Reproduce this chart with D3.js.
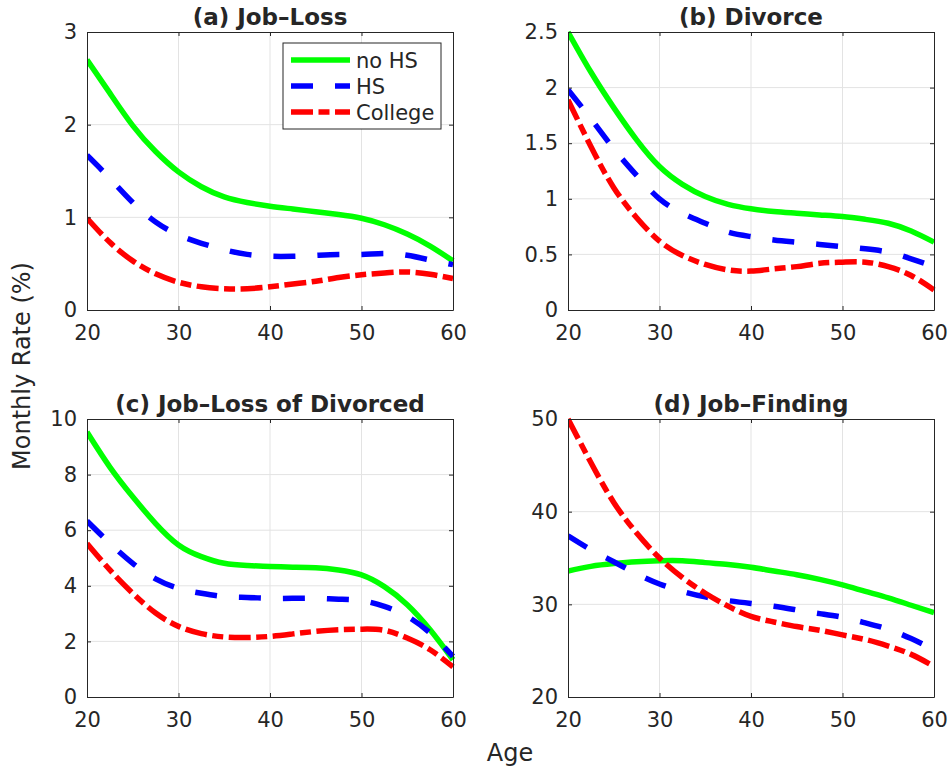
<html>
<head>
<title>Monthly rates by age</title>
<meta charset="utf-8">
<script src="https://d3js.org/d3.v7.min.js"></script>
<style>
  body { margin: 0; background: #fff; }
  text { font-family: "DejaVu Sans", sans-serif; fill: #262626; }
</style>
</head>
<body>
<script type="text/javascript">
var ages = [20, 22.5, 25, 27.5, 30, 32.5, 35, 37.5, 40, 42.5, 45, 47.5, 50, 52.5, 55, 57.5, 60]
var xTicks = [20, 30, 40, 50, 60]
var groups = ["no HS", "HS", "College"]

// (a) Job-Loss
var jobLossNoHS    = [2.70, 2.34, 1.99, 1.71, 1.49, 1.33, 1.22, 1.16, 1.12, 1.09, 1.06, 1.03, 0.99, 0.92, 0.82, 0.69, 0.53]
var jobLossHS      = [1.67, 1.42, 1.16, 0.95, 0.81, 0.72, 0.65, 0.60, 0.58, 0.58, 0.59, 0.60, 0.60, 0.61, 0.59, 0.54, 0.49]
var jobLossCollege = [0.99, 0.73, 0.53, 0.39, 0.30, 0.25, 0.23, 0.23, 0.25, 0.28, 0.31, 0.35, 0.38, 0.40, 0.41, 0.385, 0.34]
// (b) Divorce
var divorceNoHS    = [2.50, 2.14, 1.82, 1.53, 1.29, 1.13, 1.02, 0.95, 0.91, 0.885, 0.87, 0.855, 0.84, 0.815, 0.78, 0.71, 0.61]
var divorceHS      = [1.98, 1.72, 1.45, 1.21, 1.00, 0.87, 0.78, 0.70, 0.66, 0.63, 0.61, 0.59, 0.57, 0.55, 0.52, 0.46, 0.39]
var divorceCollege = [1.89, 1.47, 1.10, 0.83, 0.62, 0.49, 0.41, 0.36, 0.35, 0.37, 0.39, 0.42, 0.43, 0.43, 0.39, 0.31, 0.18]
// (c) Job-Loss of Divorced
var jlDivNoHS      = [9.53, 8.27, 7.20, 6.24, 5.47, 5.05, 4.81, 4.73, 4.69, 4.67, 4.65, 4.57, 4.39, 3.97, 3.32, 2.42, 1.34]
var jlDivHS        = [6.33, 5.53, 4.81, 4.25, 3.91, 3.73, 3.61, 3.58, 3.55, 3.55, 3.55, 3.52, 3.47, 3.26, 2.90, 2.30, 1.46]
var jlDivCollege   = [5.52, 4.57, 3.73, 3.02, 2.54, 2.28, 2.16, 2.14, 2.18, 2.27, 2.36, 2.42, 2.44, 2.40, 2.12, 1.70, 1.08]
// (d) Job-Finding
var findNoHS       = [33.6, 34.1, 34.4, 34.6, 34.7, 34.7, 34.5, 34.3, 34.0, 33.6, 33.2, 32.7, 32.1, 31.4, 30.7, 29.9, 29.1]
var findHS         = [37.4, 35.9, 34.6, 33.3, 32.2, 31.4, 30.8, 30.4, 30.1, 29.8, 29.4, 29.0, 28.6, 28.0, 27.3, 26.3, 25.1]
var findCollege    = [50.0, 45.3, 41.0, 37.7, 35.0, 32.9, 31.2, 29.8, 28.7, 28.1, 27.6, 27.2, 26.7, 26.2, 25.5, 24.6, 23.3]

var yTicksA = [0, 1, 2, 3]
var yTicksB = [0, 0.5, 1, 1.5, 2, 2.5]
var yTicksC = [0, 2, 4, 6, 8, 10]
var yTicksD = [20, 30, 40, 50]

var panels = [
  {title: "(a) Job–Loss", left: 87, top: 32, ticks: yTicksA, series: [jobLossNoHS, jobLossHS, jobLossCollege], legend: true},
  {title: "(b) Divorce", left: 568, top: 32, ticks: yTicksB, series: [divorceNoHS, divorceHS, divorceCollege]},
  {title: "(c) Job–Loss of Divorced", left: 87, top: 419, ticks: yTicksC, series: [jlDivNoHS, jlDivHS, jlDivCollege]},
  {title: "(d) Job–Finding", left: 568, top: 419, ticks: yTicksD, series: [findNoHS, findHS, findCollege]}
]
var pw = 366, ph = 278

var colors = ["#00ff00", "#0000ff", "#ff0000"]
var dashes = [null, "22,22", "22,5.5,11,5.5"]
var axisColor = "#262626"

var svg = d3.select("body").append("svg")
  .attr("width", 950)
  .attr("height", 771)

panels.forEach(function(p, pi) {
  var g = svg.append("g").attr("transform", "translate(" + p.left + "," + p.top + ")")
  var x = d3.scaleLinear().domain([20, 60]).range([0, pw])
  var y = d3.scaleLinear().domain(d3.extent(p.ticks)).range([ph, 0])

  // grid
  g.append("g").selectAll("line").data(xTicks.slice(1, -1)).enter().append("line")
    .attr("x1", d => x(d)).attr("x2", d => x(d)).attr("y1", 0).attr("y2", ph)
    .attr("stroke", "#e3e3e3").attr("stroke-width", 1)
  g.append("g").selectAll("line").data(p.ticks.slice(1, -1)).enter().append("line")
    .attr("y1", d => y(d)).attr("y2", d => y(d)).attr("x1", 0).attr("x2", pw)
    .attr("stroke", "#e3e3e3").attr("stroke-width", 1)

  // curves
  var clipId = "clip" + pi
  g.append("clipPath").attr("id", clipId).append("rect")
    .attr("x", 0).attr("y", -3).attr("width", pw + 3).attr("height", ph + 3)
  var line = d3.line().x((d, i) => x(ages[i])).y(d => y(d)).curve(d3.curveNatural)
  p.series.forEach(function(s, si) {
    g.append("path")
      .attr("clip-path", "url(#" + clipId + ")")
      .attr("d", line(s))
      .attr("fill", "none")
      .attr("stroke", colors[si])
      .attr("stroke-width", 5.5)
      .attr("stroke-dasharray", dashes[si])
  })

  // axes: ticks inside, on all four sides
  var fmt = d3.format("")
  var bottom = g.append("g").attr("transform", "translate(0," + ph + ")")
    .call(d3.axisBottom(x).tickValues(xTicks).tickSizeInner(-4).tickSizeOuter(0).tickPadding(10).tickFormat(fmt))
  var left = g.append("g")
    .call(d3.axisLeft(y).tickValues(p.ticks).tickSizeInner(-4).tickSizeOuter(0).tickPadding(10).tickFormat(fmt))
  var top = g.append("g")
    .call(d3.axisTop(x).tickValues(xTicks).tickSizeInner(-4).tickSizeOuter(0).tickFormat(""))
  var right = g.append("g").attr("transform", "translate(" + pw + ",0)")
    .call(d3.axisRight(y).tickValues(p.ticks).tickSizeInner(-4).tickSizeOuter(0).tickFormat(""))
  ;[bottom, left, top, right].forEach(function(a) {
    a.select(".domain").attr("stroke", axisColor).attr("stroke-width", 1)
    a.selectAll(".tick line").attr("stroke", axisColor)
    a.selectAll(".tick text").style("font-size", "21px").attr("fill", axisColor)
  })
  bottom.selectAll(".tick text").attr("dy", "0.95em")

  g.append("text")
    .attr("x", pw / 2).attr("y", -7)
    .attr("text-anchor", "middle")
    .style("font-size", "23px").style("font-weight", "bold")
    .attr("fill", "#000")
    .text(p.title)

  if (p.legend) {
    var lg = g.append("g").attr("transform", "translate(196,11)")
    lg.append("rect").attr("width", 158).attr("height", 86)
      .attr("fill", "#fff").attr("stroke", axisColor).attr("stroke-width", 1)
    groups.forEach(function(name, i) {
      var yy = 17 + i * 26
      lg.append("line").attr("x1", 8).attr("x2", 67).attr("y1", yy).attr("y2", yy)
        .attr("stroke", colors[i]).attr("stroke-width", 5.5)
        .attr("stroke-dasharray", dashes[i])
      lg.append("text").attr("x", 73).attr("y", yy + 8)
        .style("font-size", "21px").attr("fill", "#000")
        .text(name)
    })
  }
})

svg.append("text")
  .attr("transform", "translate(30,366) rotate(-90)")
  .attr("text-anchor", "middle")
  .style("font-size", "24px")
  .text("Monthly Rate (%)")

svg.append("text")
  .attr("x", 510).attr("y", 761)
  .attr("text-anchor", "middle")
  .style("font-size", "24px")
  .text("Age")
</script>
</body>
</html>
